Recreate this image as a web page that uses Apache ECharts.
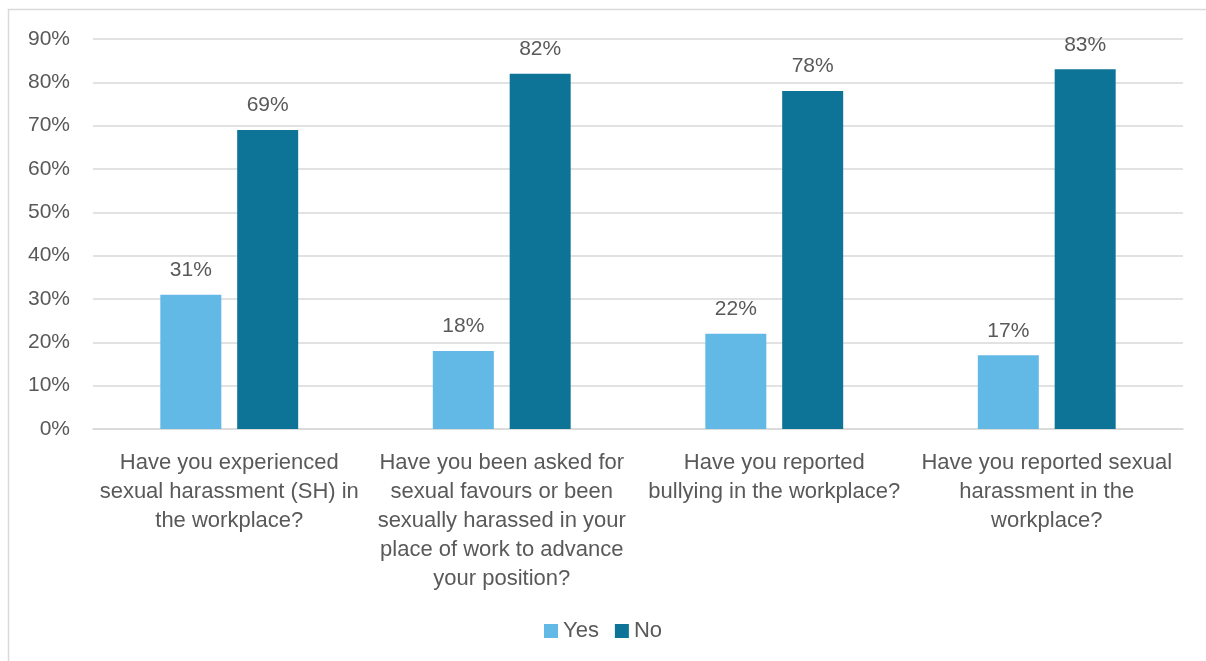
<!DOCTYPE html>
<html>
<head>
<meta charset="utf-8">
<script src="https://cdn.jsdelivr.net/npm/echarts@6/dist/echarts.min.js"></script>
<style>
  html, body { margin: 0; padding: 0; background: #fff; }
  #chart { width: 1206px; height: 661px; }
</style>
</head>
<body>
<div id="chart"></div>
<script>
// Survey questions (category axis), wrapped over several lines
const categories = [
  'Have you experienced\nsexual harassment (SH) in\nthe workplace?',
  'Have you been asked for\nsexual favours or been\nsexually harassed in your\nplace of work to advance\nyour position?',
  'Have you reported\nbullying in the workplace?',
  'Have you reported sexual\nharassment in the\nworkplace?'
];
// Share of respondents (%)
const yesValues = [31, 18, 22, 17];
const noValues = [69, 82, 78, 83];
const seriesNames = ['Yes', 'No'];
const yTicks = { min: 0, max: 90, interval: 10 };

const textColor = '#595959';
const fontFamily = '"Liberation Sans", Arial, sans-serif';

const chart = echarts.init(document.getElementById('chart'), null, { renderer: 'canvas' });

const labelStyle = {
  show: true,
  position: 'top',
  distance: 14,
  formatter: p => p.value + '%',
  color: textColor,
  fontSize: 21,
  fontFamily
};

chart.setOption({
  backgroundColor: '#ffffff',
  animation: false,
  graphic: [{
    type: 'rect',
    shape: { x: 8.5, y: 9.5, width: 1210, height: 670 },
    style: { fill: 'none', stroke: '#d9d9d9', lineWidth: 1.5 },
    silent: true
  }],
  grid: { left: 93, right: 23, top: 39, bottom: 232, containLabel: false },
  legend: {
    data: seriesNames,
    bottom: 14,
    left: 'center',
    itemWidth: 14,
    itemHeight: 14,
    itemGap: 16,
    icon: 'rect',
    textStyle: { color: textColor, fontSize: 22, fontFamily, padding: [0, 0, 0, 0] }
  },
  xAxis: {
    type: 'category',
    data: categories,
    axisLine: { show: true, lineStyle: { color: '#d9d9d9', width: 1.5 } },
    axisTick: { show: false },
    axisLabel: {
      interval: 0,
      margin: 19,
      color: textColor,
      fontSize: 22,
      lineHeight: 29,
      fontFamily,
      align: 'center'
    }
  },
  yAxis: {
    type: 'value',
    min: yTicks.min,
    max: yTicks.max,
    interval: yTicks.interval,
    axisLine: { show: false },
    axisTick: { show: false },
    splitLine: { lineStyle: { color: '#d9d9d9', width: 1.5 } },
    axisLabel: {
      formatter: v => v + '%',
      color: textColor,
      fontSize: 21,
      fontFamily,
      margin: 23
    }
  },
  series: [
    {
      name: seriesNames[0],
      type: 'bar',
      data: yesValues,
      barWidth: 61,
      barGap: '26%',
      itemStyle: { color: '#63b9e6' },
      label: labelStyle
    },
    {
      name: seriesNames[1],
      type: 'bar',
      data: noValues,
      barWidth: 61,
      barGap: '26%',
      itemStyle: { color: '#0e7497' },
      label: labelStyle
    }
  ]
});
</script>
</body>
</html>
